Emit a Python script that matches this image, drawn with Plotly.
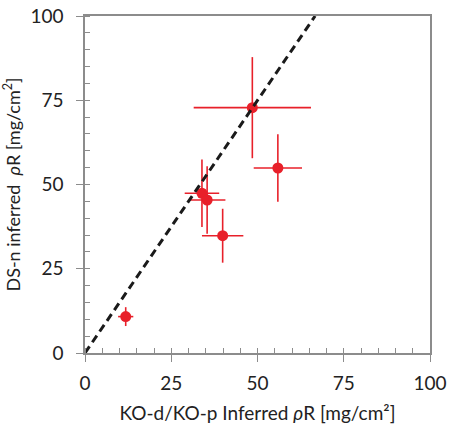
import plotly.graph_objects as go

ko_rhoR = [48.5, 55.9, 33.9, 35.4, 39.9, 11.8]
ko_err = [17.0, 7.0, 5.0, 5.3, 6.0, 2.2]
ds_rhoR = [72.8, 54.9, 47.4, 45.4, 34.8, 10.8]
ds_err = [15.0, 10.0, 10.0, 10.0, 8.0, 2.8]
line_x = [0, 66.7]
line_y = [0, 100]
ticks = [0, 25, 50, 75, 100]

red = "#e8202a"
font_family = "Lato"
fig = go.Figure()
fig.add_trace(go.Scatter(
    x=ko_rhoR, y=ds_rhoR, mode="markers",
    marker=dict(color=red, size=11),
    error_x=dict(type="data", array=ko_err, color=red, thickness=1.6, width=0),
    error_y=dict(type="data", array=ds_err, color=red, thickness=1.6, width=0),
    showlegend=False, cliponaxis=False))
fig.add_trace(go.Scatter(
    x=line_x, y=line_y, mode="lines",
    line=dict(color="#1a1a1a", width=3, dash="8px,5px"),
    showlegend=False))

axis_common = dict(
    range=[0, 100], tickvals=ticks, showgrid=False, zeroline=False,
    showline=True, mirror=True, linecolor="#8c8c8c", linewidth=1.5,
    ticks="outside", ticklen=7, tickcolor="#8c8c8c", tickwidth=1.3,
    minor=dict(dtick=5, ticks="inside", ticklen=5, tickcolor="#8c8c8c", tickwidth=1),
    tickfont=dict(size=19, color="#222", family=font_family),
    automargin=False,
)
fig.update_xaxes(**axis_common, ticklabelstandoff=5,
    title=dict(text="KO-d/KO-p Inferred <i>ρ</i>R [mg/cm²]", font=dict(size=19, color="#222", family=font_family), standoff=14))
fig.update_yaxes(**axis_common, ticklabelstandoff=9,
    title=dict(text="DS-n inferred  <i>ρ</i>R [mg/cm<sup>2</sup>]", font=dict(size=18, color="#222", family=font_family), standoff=10))

fig.update_layout(
    width=449, height=439,
    margin=dict(l=85, r=19, t=16, b=86),
    plot_bgcolor="white", paper_bgcolor="white",
)
fig.write_html("out.html", config={"displayModeBar": False},
               post_script="document.body.style.margin='0';document.body.style.overflow='hidden';")
